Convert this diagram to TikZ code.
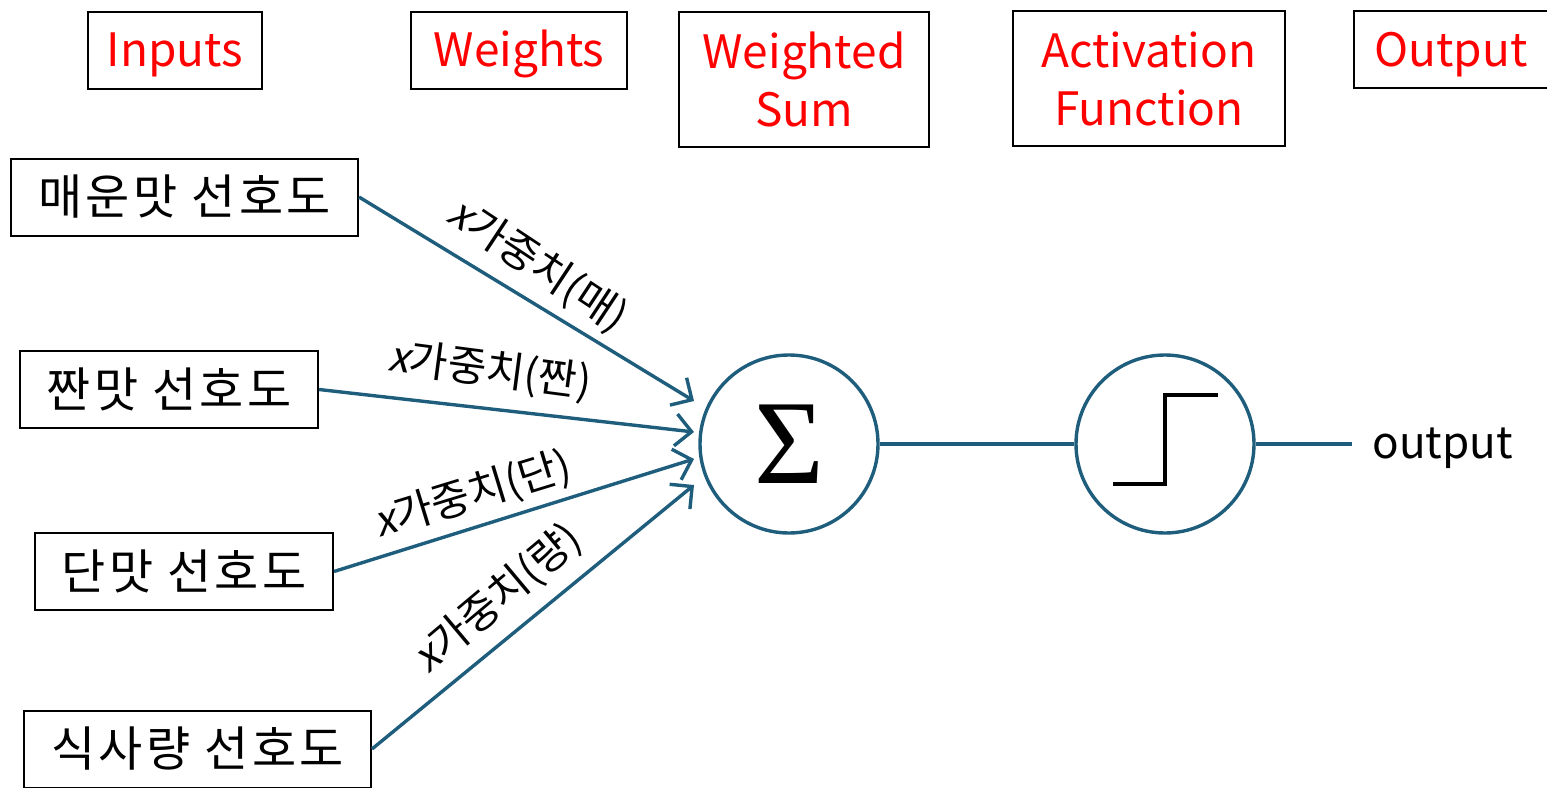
\documentclass[tikz,border=0pt]{standalone}
\usepackage{fontspec}
\setmainfont{Noto Sans CJK KR}
\newfontfamily\krs{Noto Sans CJK KR}[LetterSpace=7]
\newfontfamily\xit{Noto Sans CJK KR}[FakeSlant=0.2]
\newfontfamily\sigfont{Liberation Serif}
\usetikzlibrary{arrows.meta}
\definecolor{teal1}{RGB}{31,93,125}
\definecolor{red1}{RGB}{255,0,0}
\begin{document}
\begin{tikzpicture}[x=0.5pt,y=-0.5pt,
 title/.style={draw=black, line width=1pt, text=red1, font=\fontsize{23}{29}\selectfont, align=center, inner sep=0pt},
 title1/.style={title, text height=16pt, text depth=0pt},
 titletext/.style={text=red1, font=\fontsize{23}{29}\selectfont, inner sep=0pt, text height=16pt, text depth=0pt},
 inbox/.style={draw=black, line width=1pt, font=\krs\fontsize{24}{28}\selectfont, inner sep=0pt, minimum height=38.5pt},
 wlab/.style={font=\fontsize{21}{24}\selectfont, inner sep=1pt},
 conn/.style={draw=teal1, line width=1.7pt},
 arr/.style={conn, -{Straight Barb[length=8pt,width=16pt,line width=1.7pt]}},
 neuron/.style={circle, draw=teal1, line width=1.7pt, minimum size=89pt, inner sep=0pt}]
\useasboundingbox (0,0) rectangle (1547,787);
% titles
\node[title1, minimum width=87pt, minimum height=38.5pt] (tin) at (175,50.5) {Inputs};
\node[title1, minimum width=108pt, minimum height=38.5pt] (tw) at (519,50.5) {Weights};
\node[title, minimum width=125pt, minimum height=67.5pt] (tws) at (804,79.5) {Weighted\\Sum};
\node[title, minimum width=136pt, minimum height=67.5pt] (taf) at (1149,78.5) {Activation\\Function};
\draw[line width=1pt] (1354,11) rectangle (1570,88);
\node[titletext] (tout) at (1451,50) {Output};
% inputs
\node[inbox, minimum width=173.5pt] (in1) at (184.5,197) {매운맛 선호도};
\node[inbox, minimum width=149pt] (in2) at (169,389.5) {짠맛 선호도};
\node[inbox, minimum width=149pt] (in3) at (184,571.5) {단맛 선호도};
\node[inbox, minimum width=173.5pt] (in4) at (197.5,749) {식사량 선호도};
% neurons
\node[neuron] (sum) at (789,444) {\sigfont\fontsize{60}{64}\selectfont Σ};
\node[neuron] (act) at (1165,444) {};
\draw[line width=1.7pt] (1113,484) -- (1165,484) -- (1165,395) -- (1218,395);
% arrows
\coordinate (t1) at (694,401);
\coordinate (t2) at (694,432);
\coordinate (t3) at (694,459);
\coordinate (t4) at (694,485);
\draw[arr] (in1.east) -- (t1);
\draw[arr] (in2.east) -- (t2);
\draw[arr] (in3.east) -- (t3);
\draw[arr] (in4.east) -- (t4);
% weight labels
\node[wlab, rotate=-33.5] (w1) at (538,266) {{\xit x}가중치(매)};
\node[wlab, rotate=-7.5] (w2) at (490,371) {{\xit x}가중치(짠)};
\node[wlab, rotate=17] (w3) at (473,495) {{\xit x}가중치(단)};
\node[wlab, rotate=40] (w4) at (498,599) {{\xit x}가중치(량)};
% output
\draw[conn] (sum) -- (act);
\coordinate (oend) at (1352,444);
\draw[conn] (act) -- (oend);
\node[font=\fontsize{22}{26}\selectfont, anchor=base west, inner sep=0pt] (out) at (1372,458) {output};
\end{tikzpicture}
\end{document}
